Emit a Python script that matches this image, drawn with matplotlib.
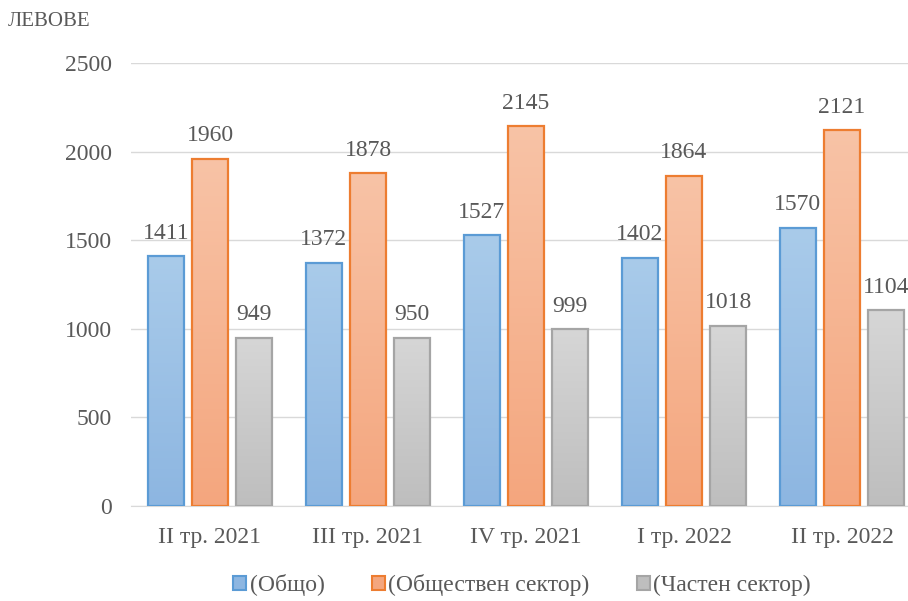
import matplotlib.pyplot as plt
import matplotlib.patches as mpatches
from matplotlib.colors import LinearSegmentedColormap
import numpy as np

plt.rcParams['font.family'] = ['Liberation Serif', 'DejaVu Serif']

quarters = ['II тр. 2021', 'III тр. 2021', 'IV тр. 2021', 'I тр. 2022', 'II тр. 2022']
total = [1411, 1372, 1527, 1402, 1570]
public = [1960, 1878, 2145, 1864, 2121]
private = [949, 950, 999, 1018, 1104]

series = [('(Общо)', total, '#A9CBEA', '#8DB6E1', '#5B9BD5'),
          ('(Обществен сектор)', public, '#F8C3A6', '#F4A67E', '#ED7D31'),
          ('(Частен сектор)', private, '#D6D6D6', '#BEBEBE', '#A5A5A5')]

txt = '#595959'
fs = 17
fig = plt.figure(figsize=(9.08, 6.01), dpi=100)
ax = fig.add_axes([131/908, 95/601, 777/908, 443/601])

x = np.arange(len(quarters))
w = 0.23
step = 0.28
grad = np.linspace(0, 1, 100).reshape(-1, 1)
handles = []
for i, (name, vals, top, bot, edge) in enumerate(series):
    bars = ax.bar(x + (i - 1) * step, vals, w, color='none', edgecolor=edge,
                  linewidth=1.6, zorder=3)
    cmap = LinearSegmentedColormap.from_list('g', [bot, top])
    for b in bars:
        x0, y0 = b.get_x(), b.get_y()
        im = ax.imshow(grad, extent=[x0, x0 + b.get_width(), y0, y0 + b.get_height()],
                       origin='lower', aspect='auto', cmap=cmap, zorder=2)
        im.set_clip_path(b)
        ax.text(b.get_x() + b.get_width() / 2, b.get_height() + 70, str(int(b.get_height())),
                ha='center', va='bottom', fontsize=fs, color=txt)
    handles.append(mpatches.Patch(facecolor=bot, edgecolor=edge, linewidth=1.5, label=name))

ax.set_xlim(-0.5, 4.418)
ax.set_ylim(0, 2500)
ax.set_yticks(range(0, 2501, 500))
ax.set_xticks(x)
ax.set_xticklabels(quarters)
ax.grid(axis='y', color='#D9D9D9', linewidth=1, zorder=0)
for s in ['top', 'right', 'left']:
    ax.spines[s].set_visible(False)
ax.spines['bottom'].set_color('#D9D9D9')
ax.tick_params(length=0, labelsize=fs, colors=txt)
ax.tick_params(axis='y', pad=14)
ax.tick_params(axis='x', pad=15)

fig.text(8/908, 1 - 22/601, 'ЛЕВОВЕ', fontsize=15, color=txt, va='center')

fig.legend(handles=handles, loc='center', bbox_to_anchor=(522/908, 1 - 585/601),
           ncol=3, frameon=False, fontsize=fs, handlelength=0.55, handleheight=0.55,
           handletextpad=0.15, columnspacing=2.0, labelcolor=txt)

fig.savefig('out.png', dpi=100)
